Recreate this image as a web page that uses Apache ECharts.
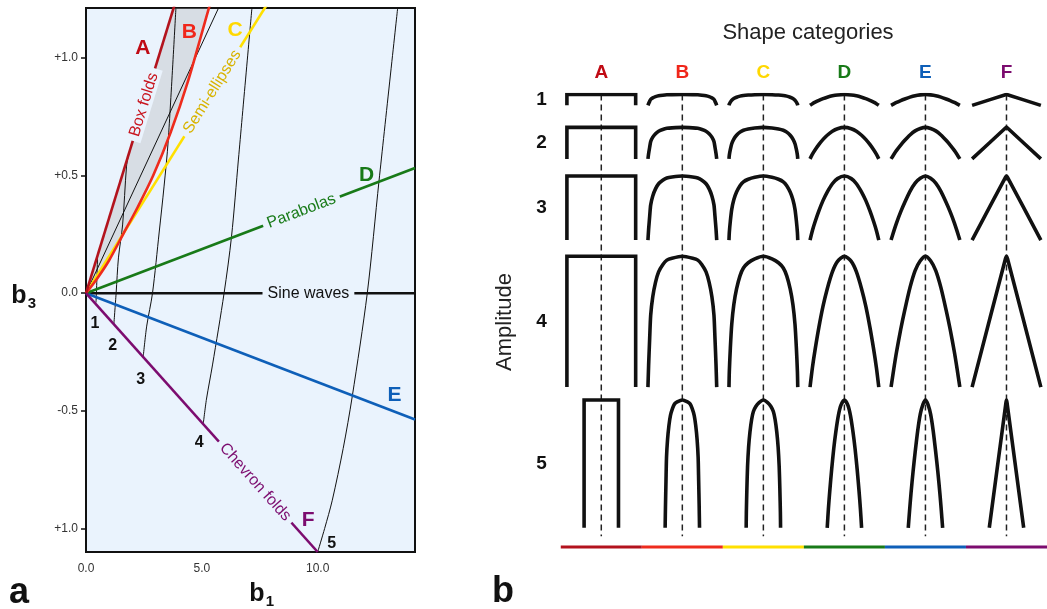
<!DOCTYPE html>
<html>
<head>
<meta charset="utf-8">
<title>Fold shape classification</title>
<script src="https://cdn.jsdelivr.net/npm/echarts@6/dist/echarts.min.js"></script>
<style>
  html, body { margin: 0; padding: 0; background: #ffffff; }
  #chart { width: 1047px; height: 609px; }
</style>
</head>
<body>
<div id="chart"></div>
<script>
// ---------------- Panel a: fold shapes in (b1, b3) space ----------------
const lineA    = [[0, 0], [3.9, 1.25]];                       // box folds
const lineB    = [[0, 0], [0.5, 0.065], [1.0, 0.14], [1.6, 0.25], [2.2, 0.36],
                  [2.9, 0.5], [3.66, 0.685], [4.4, 0.9], [5.27, 1.2], [5.45, 1.26]];
const lineC    = [[0, 0], [7.96, 1.25]];                      // semi-ellipses
const lineD    = [[0, 0], [14.2, 0.532]];                     // parabolas
const lineSine = [[0, 0], [14.2, 0]];                         // sine waves
const lineE    = [[0, 0], [14.2, -0.537]];
const lineF    = [[0, 0], [10, -1.1]];                        // chevron folds
const guideAB  = [[0, 0], [5.9, 1.25]];

// amplitude contours, starting on the chevron line
const contour1 = [[0.43, -0.04], [0.45, 0], [0.5, 0.16]];
const contour2 = [[1.2, -0.135], [1.3, 0], [1.4, 0.15], [1.58, 0.29], [1.75, 0.54], [1.84, 0.59]];
const contour3 = [[2.47, -0.27], [2.62, -0.14], [2.87, 0], [3.16, 0.26], [3.37, 0.455], [3.55, 0.65], [3.88, 1.21]];
const contour4 = [[5.06, -0.556], [5.2, -0.45], [5.46, -0.305], [5.96, 0], [6.28, 0.24], [6.58, 0.57], [7.16, 1.21]];
const contour5 = [[10, -1.1], [10.3, -1.0], [10.63, -0.88], [11.1, -0.66], [11.49, -0.44], [12.14, 0], [12.65, 0.48], [13.45, 1.21]];
const contourNames = ['1', '2', '3', '4', '5'];

const xTickValues = [0, 5, 10];
const xTickLabels = ['0.0', '5.0', '10.0'];
const yTickValues = [1, 0.5, 0, -0.5, -1];
const yTickLabels = ['+1.0', '+0.5', '0.0', '-0.5', '+1.0'];

// ---------------- Panel b: shape categories x amplitude ----------------
const categories = ['A', 'B', 'C', 'D', 'E', 'F'];
const amplitudes = ['1', '2', '3', '4', '5'];
const amplitudeRatio = [0.31, 0.9, 1.83, 3.74, 7.3];   // height / quarter wavelength

// half profiles: [distance from hinge axis, depth below hinge], both normalised
const profileA = [[0, 0], [1, 0], [1, 1]];
const profileB = [[0, 0], [0.3, 0.015], [0.45, 0.03], [0.57, 0.065], [0.69, 0.12], [0.78, 0.2],
                  [0.86, 0.31], [0.92, 0.45], [0.95, 0.63], [0.98, 0.83], [1, 1]];
const profileC = [[0, 0], [0.25, 0.02], [0.44, 0.05], [0.58, 0.09], [0.68, 0.15], [0.78, 0.25],
                  [0.86, 0.37], [0.92, 0.52], [0.96, 0.7], [0.99, 0.88], [1, 1]];
const profileD = [[0, 0], [0.2, 0.04], [0.35, 0.12], [0.5, 0.25], [0.62, 0.38], [0.74, 0.54],
                  [0.85, 0.71], [0.93, 0.85], [1, 1]];
const profileE = [[0, 0], [0.15, 0.035], [0.3, 0.11], [0.45, 0.24], [0.6, 0.41], [0.72, 0.56],
                  [0.84, 0.73], [0.92, 0.86], [1, 1]];
const profileF = [[0, 0], [0.03, 0.02], [1, 1]];

// ---------------- styling ----------------
const FONT = 'Liberation Sans, Arial, Helvetica, sans-serif';
const PLOT_BG = '#EAF3FD';
const colors = {
  A: '#B3131D', B: '#EE2B1D', C: '#FFE000', D: '#187A18', E: '#0E5FB8', F: '#7C0C6F'
};
const letterColors = {
  A: '#C00A14', B: '#F0261A', C: '#FFD800', D: '#187A18', E: '#0E5FB8', F: '#7C0C6F'
};
const profiles = { A: profileA, B: profileB, C: profileC, D: profileD, E: profileE, F: profileF };

// panel b layout (quarter-wavelength units; one unit = 35 px vertically)
const QW_X = 35 / 82.5;                 // quarter wavelength in column units
const rowHalfWidth = [1, 1, 1, 1, 0.5];
const rowGap = [0.63, 0.49, 0.46, 0.37];
const rowTop = [];
amplitudes.forEach((_, r) => {
  if (r === 0) rowTop.push(0);
  else rowTop.push(rowTop[r - 1] + amplitudeRatio[r - 1] * rowHalfWidth[r - 1] + rowGap[r - 1]);
});
const lastBottom = rowTop[4] + amplitudeRatio[4] * rowHalfWidth[4];

// ---------------- helpers ----------------
function lineSeries(data, color, width, z, extra) {
  return Object.assign({
    type: 'line', xAxisIndex: 0, yAxisIndex: 0, data: data,
    symbol: 'none', silent: true, z: z, clip: true,
    lineStyle: { color: color, width: width, cap: 'butt' }
  }, extra || {});
}

function textRenderer(items) {
  return function (params, api) {
    const it = items[params.dataIndex];
    const p = api.coord(it.pos);
    let rot = 0;
    if (it.along) {
      const a = api.coord(it.along[0]);
      const b = api.coord(it.along[1]);
      rot = Math.atan2(a[1] - b[1], b[0] - a[0]);
    }
    return {
      type: 'text',
      x: p[0] + (it.dx || 0),
      y: p[1] + (it.dy || 0),
      rotation: rot,
      style: {
        text: it.text, fill: it.color, font: it.font,
        align: 'center', verticalAlign: 'middle',
        textAlign: 'center', textVerticalAlign: 'middle',
        backgroundColor: it.bg || null,
        padding: it.bg ? [0, 5, 0, 5] : 0
      }
    };
  };
}

function textSeries(items, gi, z) {
  return {
    type: 'custom', xAxisIndex: gi, yAxisIndex: gi, silent: true, z: z, clip: false,
    data: items.map(it => it.pos),
    renderItem: textRenderer(items)
  };
}

function pointOn(line, b1) {
  const end = line[line.length - 1];
  return [b1, b1 * end[1] / end[0]];
}

// ---------------- panel a series ----------------
const series = [];

// shaded field between box folds and curve B
const shadePoly = lineA.concat(lineB.slice().reverse());
series.push({
  type: 'custom', xAxisIndex: 0, yAxisIndex: 0, silent: true, z: 1, clip: true,
  data: [[0, 0]],
  renderItem: function (params, api) {
    return {
      type: 'polygon',
      shape: { points: shadePoly.map(p => api.coord(p)) },
      style: { fill: 'rgba(175,175,178,0.32)' }
    };
  }
});

// contours and guide
[contour1, contour2, contour3, contour4, contour5].forEach(c => {
  series.push(lineSeries(c, '#111111', 1, 2, { smooth: 0.3 }));
});
series.push(lineSeries(guideAB, '#111111', 1, 2));

// shape category lines
series.push(lineSeries(lineSine, '#111111', 2.6, 3));
series.push(lineSeries(lineE, colors.E, 2.6, 3));
series.push(lineSeries(lineD, colors.D, 2.6, 3));
series.push(lineSeries(lineC, colors.C, 2.6, 3));
series.push(lineSeries(lineB, colors.B, 2.6, 3, { smooth: 0.3 }));
series.push(lineSeries(lineA, colors.A, 2.6, 4));
series.push(lineSeries(lineF, colors.F, 2.6, 4));

// labels written into the lines
const lineLabelFont = '16px ' + FONT;
const lineLabels = [
  { text: 'Box folds',     line: lineA,    at: 2.5,  color: '#C8141E' },
  { text: 'Semi-ellipses', line: lineC,    at: 5.45, color: '#D8B300' },
  { text: 'Parabolas',     line: lineD,    at: 9.3,  color: colors.D },
  { text: 'Sine waves',    line: lineSine, at: 9.6,  color: '#111111' },
  { text: 'Chevron folds', line: lineF,    at: 7.3,  color: colors.F }
].map(l => ({
  text: l.text, color: l.color, font: lineLabelFont, bg: PLOT_BG,
  pos: pointOn(l.line, l.at), along: [l.line[0], l.line[l.line.length - 1]]
}));

// category letters
const letterFont = 'bold 21px ' + FONT;
const panelALetters = [
  { text: 'A', pos: [2.45, 1.041] },
  { text: 'B', pos: [4.46, 1.111] },
  { text: 'C', pos: [6.43, 1.116] },
  { text: 'D', pos: [12.11, 0.502] },
  { text: 'E', pos: [13.31, -0.433] },
  { text: 'F', pos: [9.59, -0.964] }
].map(l => ({ text: l.text, pos: l.pos, color: letterColors[l.text], font: letterFont }));

// amplitude numbers at the start of each contour
const numberOffsets = [[-1, 21], [-1, 21], [-2.5, 22.6], [-4, 19], [14, -8]];
const numberLabels = [contour1, contour2, contour3, contour4, contour5].map((c, i) => ({
  text: contourNames[i], pos: c[0], dx: numberOffsets[i][0], dy: numberOffsets[i][1],
  color: '#111111', font: 'bold 16px ' + FONT
}));

series.push(textSeries(lineLabels.concat(panelALetters, numberLabels), 0, 6));

// ---------------- panel b series ----------------
function shapePoints(c, r, profile) {
  const hw = rowHalfWidth[r];
  const h = amplitudeRatio[r] * hw;
  const top = rowTop[r];
  const left = profile.slice().reverse().map(p => [c - p[0] * hw * QW_X, top + p[1] * h]);
  const right = profile.slice(1).map(p => [c + p[0] * hw * QW_X, top + p[1] * h]);
  return left.concat(right);
}

categories.forEach((cat, c) => {
  // hinge axis
  series.push({
    type: 'line', xAxisIndex: 1, yAxisIndex: 1, silent: true, symbol: 'none', z: 2,
    data: [[c, 0], [c, lastBottom + 0.24]],
    lineStyle: { color: '#222222', width: 1.5, type: [6, 4] }
  });
  // fold profiles
  amplitudes.forEach((_, r) => {
    series.push({
      type: 'line', xAxisIndex: 1, yAxisIndex: 1, silent: true, symbol: 'none', z: 3,
      data: shapePoints(c, r, profiles[cat]),
      smooth: cat === 'A' ? false : 0.25,
      lineStyle: { color: '#111111', width: 3.6, cap: 'butt', join: cat === 'A' ? 'miter' : 'round' }
    });
  });
  // category colour bar
  series.push({
    type: 'line', xAxisIndex: 1, yAxisIndex: 1, silent: true, symbol: 'none', z: 2,
    data: [[c - 0.5, lastBottom + 0.55], [c + 0.5, lastBottom + 0.55]],
    lineStyle: { color: colors[cat], width: 3, cap: 'butt' }
  });
});

const panelBLetters = categories.map((cat, c) => ({
  text: cat, pos: [c, -0.614], color: letterColors[cat], font: 'bold 19px ' + FONT
}));
const panelBRows = amplitudes.map((a, r) => ({
  text: a, pos: [-0.736, rowTop[r] + amplitudeRatio[r] * rowHalfWidth[r] / 2],
  color: '#111111', font: 'bold 19px ' + FONT
}));
series.push(textSeries(panelBLetters.concat(panelBRows), 1, 6));

// ---------------- option ----------------
const centred = { align: 'center', verticalAlign: 'middle', textAlign: 'center', textVerticalAlign: 'middle' };
function label(x, y, text, font, rotation) {
  return { type: 'text', x: x, y: y, rotation: rotation || 0, silent: true,
    style: Object.assign({ text: text, font: font, fill: '#111111' }, centred) };
}

const option = {
  animation: false,
  backgroundColor: '#ffffff',
  grid: [
    { left: 86, top: 8, width: 329, height: 544, show: true,
      backgroundColor: PLOT_BG, borderColor: '#111111', borderWidth: 2 },
    { left: 520.25, top: 94.5, width: 536.25, height: 455, show: false }
  ],
  xAxis: [
    { gridIndex: 0, type: 'value', min: 0, max: 14.2,
      axisLine: { show: true, onZero: false, lineStyle: { color: '#111111', width: 2 } },
      axisTick: { show: false },
      splitLine: { show: false },
      axisLabel: {
        show: true, customValues: xTickValues, margin: 11,
        color: '#333333', fontSize: 12, fontFamily: FONT,
        formatter: v => xTickLabels[xTickValues.findIndex(t => Math.abs(t - v) < 1e-9)]
      }
    },
    { gridIndex: 1, type: 'value', min: -1, max: 5.5, show: false }
  ],
  yAxis: [
    { gridIndex: 0, type: 'value', min: -1.1, max: 1.212,
      axisLine: { show: true, onZero: false, lineStyle: { color: '#111111', width: 2 } },
      axisTick: { show: true, length: 5, customValues: yTickValues,
        lineStyle: { color: '#111111', width: 1.5 } },
      splitLine: { show: false },
      axisLabel: {
        show: true, customValues: yTickValues, margin: 8,
        color: '#333333', fontSize: 12, fontFamily: FONT,
        formatter: v => yTickLabels[yTickValues.findIndex(t => Math.abs(t - v) < 1e-9)]
      }
    },
    { gridIndex: 1, type: 'value', min: 0, max: 13, inverse: true, show: false }
  ],
  graphic: [
    Object.assign(label(808, 33, 'Shape categories', '22px ' + FONT), {}),
    label(505, 322, 'Amplitude', '22px ' + FONT, Math.PI / 2),
    label(19, 593, 'a', 'bold 36px ' + FONT),
    label(503, 592, 'b', 'bold 36px ' + FONT),
    label(257, 594, 'b', 'bold 25px ' + FONT),
    label(270, 602, '1', 'bold 15px ' + FONT),
    label(19, 296, 'b', 'bold 25px ' + FONT),
    label(32, 304, '3', 'bold 15px ' + FONT)
  ],
  series: series
};
option.graphic[0].style.fill = '#222222';
option.graphic[1].style.fill = '#222222';

const chart = echarts.init(document.getElementById('chart'), null, { renderer: 'canvas' });
chart.setOption(option);
</script>
</body>
</html>
